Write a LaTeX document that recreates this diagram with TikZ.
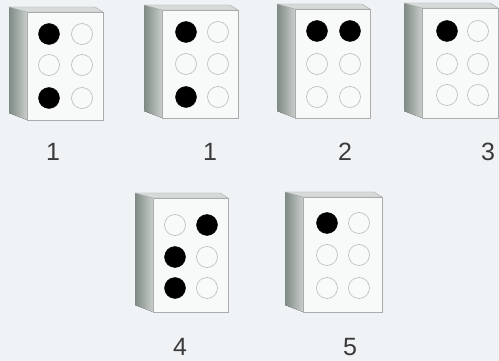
\documentclass[tikz,border=0pt]{standalone}
\usepackage{fontspec}
\setmainfont{Liberation Sans}
\definecolor{bg}{HTML}{EFF3F5}
\definecolor{facec}{HTML}{F8F9F9}
\definecolor{edgec}{HTML}{A8ACAC}
\definecolor{sidedark}{HTML}{7F8A85}
\definecolor{sidelight}{HTML}{C9CECB}
\definecolor{topc}{HTML}{D6DAD9}
\definecolor{labc}{HTML}{3A3A3A}
\tikzset{
  face/.style={draw=edgec, line width=0.6pt, fill=facec},
  sidepanel/.style={left color=sidedark, right color=sidelight, draw=none},
  topstrip/.style={fill=topc, draw=edgec, line width=0.4pt},
  dotfull/.style={circle, fill=black, draw=black, line width=0.4pt, minimum size=21pt, inner sep=0pt},
  dotopen/.style={circle, fill=facec, draw=gray!55, line width=0.6pt, minimum size=21pt, inner sep=0pt},
  lab/.style={font=\fontsize{25}{25}\selectfont, text=labc, inner sep=0pt}
}
% \cellblock{name}{L}{R}{T}{B}
\newcommand{\cellblock}[5]{%
  \fill[sidepanel] (#2-18,#4-5) -- (#2,#4) -- (#2,#5) -- (#2-18,#5-7) -- cycle;
  \path[topstrip] (#2-18,#4-5) -- (#3-8,#4-5) -- (#3,#4) -- (#2,#4) -- cycle;
  \node[face, minimum width=#3-#2, minimum height=#5-#4, inner sep=0pt, anchor=north west] (#1) at (#2,#4) {};
}
\begin{document}
\begin{tikzpicture}[x=1pt,y=-1pt]
\fill[bg] (0,0) rectangle (499,361);
\useasboundingbox (0,0) rectangle (499,361);

% block A (label 1)
\cellblock{A}{27}{103}{12}{120}
\node[dotfull] (A1) at (49,34) {};
\node[dotopen] (A4) at (82,34) {};
\node[dotopen] (A2) at (49,65) {};
\node[dotopen] (A5) at (82,65) {};
\node[dotfull] (A3) at (49,98) {};
\node[dotopen] (A6) at (82,98) {};
\node[lab] (LA) at (53,152) {1};

% block B (label 1)
\cellblock{B}{162}{238}{10}{118}
\node[dotfull] (B1) at (186,32) {};
\node[dotopen] (B4) at (218,32) {};
\node[dotopen] (B2) at (186,64) {};
\node[dotopen] (B5) at (218,64) {};
\node[dotfull] (B3) at (186,97) {};
\node[dotopen] (B6) at (218,97) {};
\node[lab] (LB) at (210,152) {1};

% block C (label 2)
\cellblock{C}{295}{370}{9}{118}
\node[dotfull] (C1) at (317,31) {};
\node[dotfull] (C4) at (350,31) {};
\node[dotopen] (C2) at (317,64) {};
\node[dotopen] (C5) at (350,64) {};
\node[dotopen] (C3) at (317,97) {};
\node[dotopen] (C6) at (350,97) {};
\node[lab] (LC) at (345,152) {2};

% block D (label 3)
\cellblock{D}{422}{498}{8}{118}
\node[dotfull] (D1) at (447,31) {};
\node[dotopen] (D4) at (478,31) {};
\node[dotopen] (D2) at (447,64) {};
\node[dotopen] (D5) at (478,64) {};
\node[dotopen] (D3) at (447,95) {};
\node[dotopen] (D6) at (478,95) {};
\node[lab] (LD) at (488,152) {3};

% block E (label 4)
\cellblock{E}{153}{228}{198}{312}
\node[dotopen] (E1) at (175,225) {};
\node[dotfull] (E4) at (207,225) {};
\node[dotfull] (E2) at (175,257) {};
\node[dotopen] (E5) at (207,257) {};
\node[dotfull] (E3) at (175,288) {};
\node[dotopen] (E6) at (207,288) {};
\node[lab] (LE) at (180,347) {4};

% block F (label 5)
\cellblock{F}{303}{382}{197}{312}
\node[dotfull] (F1) at (327,223) {};
\node[dotopen] (F4) at (359,223) {};
\node[dotopen] (F2) at (327,255) {};
\node[dotopen] (F5) at (359,255) {};
\node[dotopen] (F3) at (327,288) {};
\node[dotopen] (F6) at (359,288) {};
\node[lab] (LF) at (350,347) {5};
\end{tikzpicture}
\end{document}
